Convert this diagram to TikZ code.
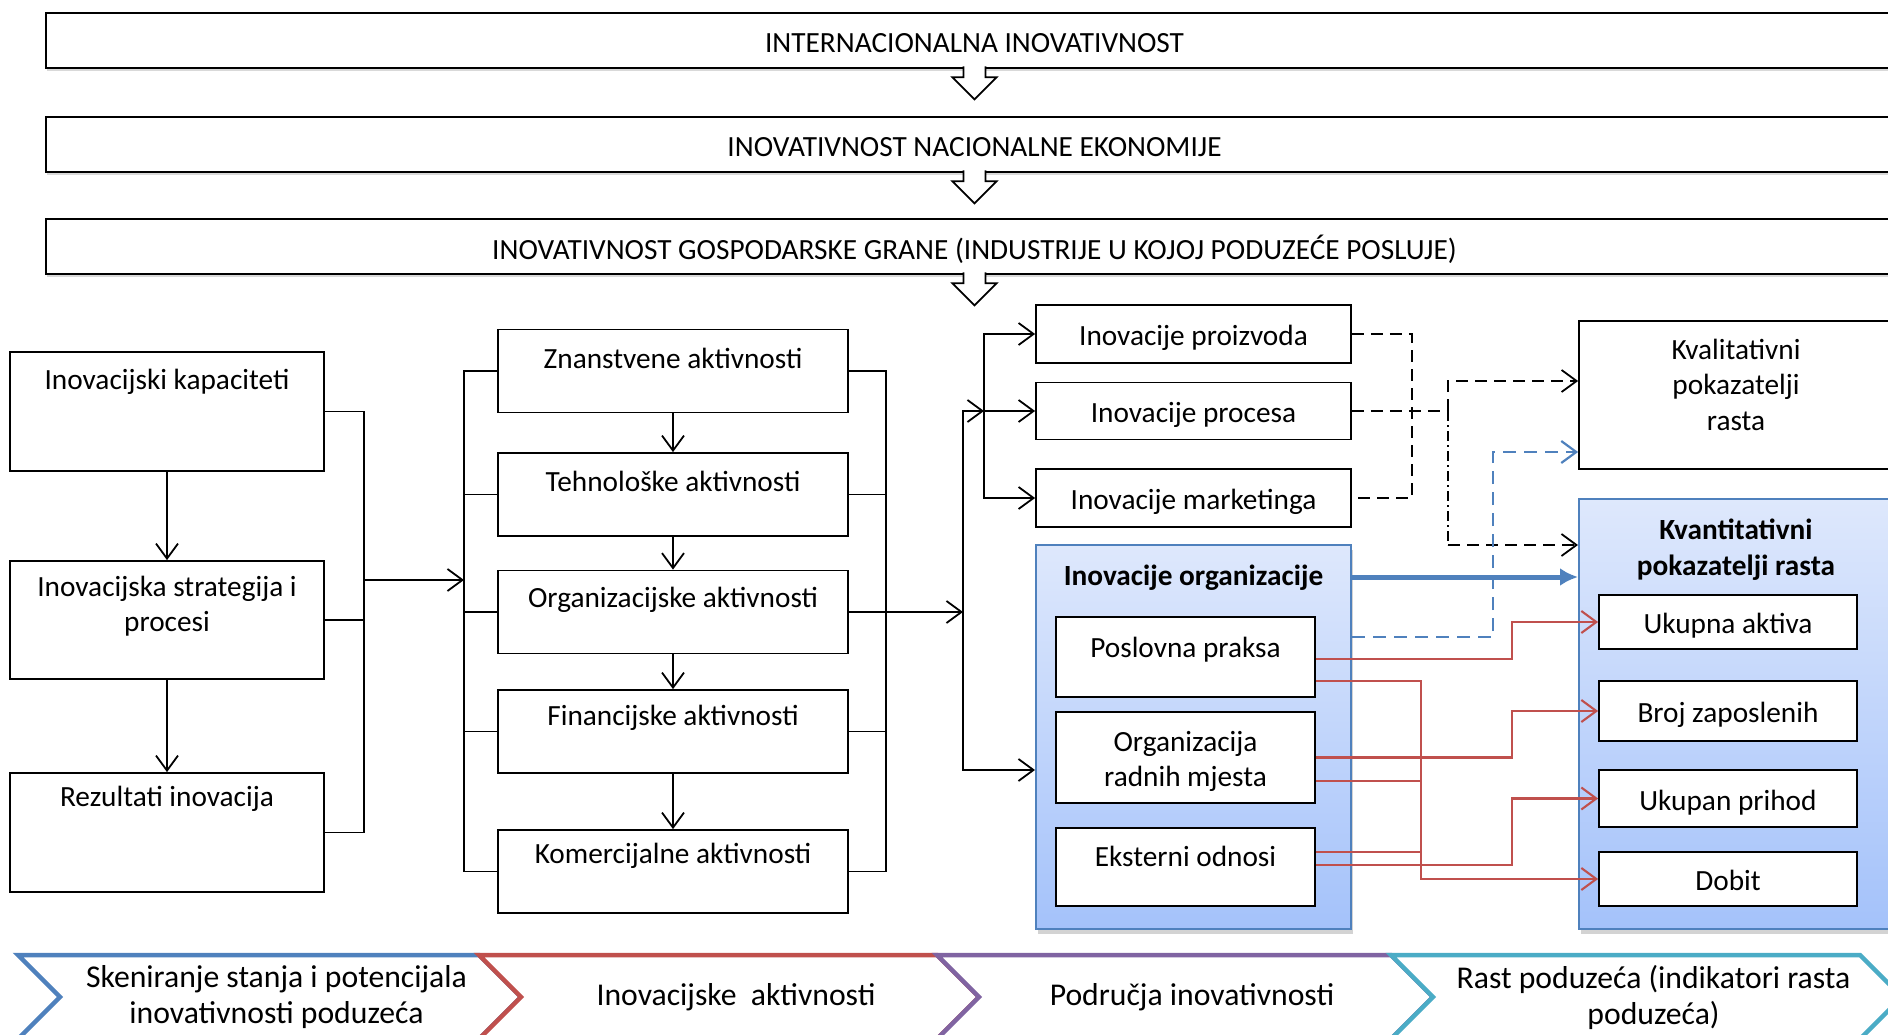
\documentclass[tikz,border=0pt]{standalone}
\usepackage{fontspec}
\setmainfont{Carlito}
\usepackage{tikz}
\usepackage{xcolor}
\usetikzlibrary{calc,arrows.meta,positioning,shadows}
\definecolor{officeBlue}{RGB}{79,129,189}
\definecolor{officeRed}{RGB}{192,80,77}
\definecolor{officePurple}{RGB}{128,100,162}
\definecolor{officeTeal}{RGB}{75,172,198}
\definecolor{panelTop}{RGB}{222,232,252}
\definecolor{panelBot}{RGB}{164,194,250}
\newcommand{\BlockDown}[1]{%
  \draw[line width=1.8pt,fill=white] ($(#1.south)+(-11,-3)$) -- ++(0,11) -- ++(-11,0) -- ++(22,22) -- ++(22,-22) -- ++(-11,0) -- ++(0,-11);}

\begin{document}
\begin{tikzpicture}[x=1pt,y=-1pt,font=\fontsize{29.3}{35.5}\selectfont,line width=1.8pt,
  >={Straight Barb[length=15pt,width=22pt]},
  bar/.style={draw,line width=2.6pt,fill=white,minimum width=1857pt,minimum height=55pt,inner sep=0pt,
    text height=26pt,text depth=1pt,drop shadow={shadow xshift=1pt,shadow yshift=-3pt,opacity=0.3}},
  box/.style={draw,fill=white,inner sep=0pt},
  ctr/.style={text height=25pt,text depth=2pt},
  txt/.style={inner sep=0pt,align=center},
  panel/.style={draw=officeBlue,line width=2pt,top color=panelTop,bottom color=panelBot,inner sep=0pt,
    drop shadow={shadow xshift=1.5pt,shadow yshift=-5pt,opacity=0.35}},
  dsh/.style={dash pattern=on 12pt off 7pt},
  dshdot/.style={dash pattern=on 10pt off 4pt on 2pt off 4pt},
  bdsh/.style={draw=officeBlue,line width=2.2pt,dash pattern=on 13pt off 8pt},
  redln/.style={draw=officeRed,line width=2.1pt}]
\useasboundingbox (0,0) rectangle (1888,1035);
\clip (0,0) rectangle (1888,1035);

\node[bar] (intl) at (974.5,40.5) {INTERNACIONALNA INOVATIVNOST};
\node[bar] (nat) at (974.5,144.5) {INOVATIVNOST NACIONALNE EKONOMIJE};
\node[bar] (ind) at (974.5,246.5) {INOVATIVNOST GOSPODARSKE GRANE (INDUSTRIJE U KOJOJ PODUZEĆE POSLUJE)};
\BlockDown{intl}
\BlockDown{nat}
\BlockDown{ind}

\node[box,minimum width=314pt,minimum height=119pt] (kap) at (167,411.5) {};
\node[txt,below=17pt of kap.north] (kapT) {Inovacijski kapaciteti};
\node[box,minimum width=314pt,minimum height=118pt] (strat) at (167,620) {};
\node[txt,below=15pt of strat.north] (stratT) {Inovacijska strategija i\\procesi};
\node[box,minimum width=314pt,minimum height=119pt] (rez) at (167,832.5) {};
\node[txt,below=13pt of rez.north] (rezT) {Rezultati inovacija};

\foreach \nm/\yy/\dd/\tx in {zn/371/19/Znanstvene aktivnosti,teh/494.5/18/Tehnološke aktivnosti,org/612/17/Organizacijske aktivnosti,fin/731.5/15/Financijske aktivnosti,kom/871.5/13/Komercijalne aktivnosti}{
  \node[box,minimum width=350pt,minimum height=83pt] (\nm) at (673,\yy) {};
  \node[txt,below=\dd pt of \nm.north] (\nm T) {\tx};
}

\node[box,ctr,minimum width=315pt,minimum height=58pt] (pro) at (1193.5,334) {Inovacije proizvoda};
\node[box,ctr,minimum width=315pt,minimum height=57pt] (proc) at (1193.5,411) {Inovacije procesa};
\node[box,ctr,minimum width=315pt,minimum height=58pt] (mkt) at (1193.5,498) {Inovacije marketinga};
\node[panel,minimum width=315pt,minimum height=384pt] (orgI) at (1193.5,737) {};
\node[txt,below=20pt of orgI.north] (orgIT) {\textbf{Inovacije organizacije}};
\node[box,minimum width=259pt,minimum height=80pt] (pp) at (1185.5,657) {};
\node[txt,below=20pt of pp.north] (ppT) {Poslovna praksa};
\node[box,minimum width=259pt,minimum height=91pt] (orm) at (1185.5,757.5) {};
\node[txt,below=19pt of orm.north] (ormT) {Organizacija\\radnih mjesta};
\node[box,minimum width=259pt,minimum height=78pt] (eo) at (1185.5,867) {};
\node[txt,below=18pt of eo.north] (eoT) {Eksterni odnosi};

\node[box,minimum width=314pt,minimum height=148pt] (kval) at (1736,395) {};
\node[txt,below=18pt of kval.north] (kvalT) {Kvalitativni\\pokazatelji\\rasta};
\node[panel,minimum width=314pt,minimum height=430pt] (kvant) at (1736,714) {};
\node[txt,below=20pt of kvant.north] (kvantT) {\textbf{Kvantitativni}\\\textbf{pokazatelji rasta}};
\node[box,ctr,minimum width=258pt,minimum height=54pt] (ua) at (1728,622) {Ukupna aktiva};
\node[box,ctr,minimum width=258pt,minimum height=60pt] (bz) at (1728,711) {Broj zaposlenih};
\node[box,ctr,minimum width=258pt,minimum height=57pt] (up) at (1728,798.5) {Ukupan prihod};
\node[box,ctr,minimum width=258pt,minimum height=54pt] (db) at (1728,879) {Dobit};

\draw[->] (kap.south) -- (strat.north);
\draw[->] (strat.south) -- (rez.north);
\coordinate (busA) at (364,580);
\coordinate (busB) at (464,580);
\draw (kap.east) -| (busA) |- (rez.east);
\draw (strat.east) -- (strat.east -| busA);
\draw[->] (busA) -- (busB);
\draw (zn.west) -| (busB) |- (kom.west);
\foreach \nm in {teh,org,fin} \draw (\nm.west) -- (\nm.west -| busB);
\foreach \a/\b in {zn/teh,teh/org,org/fin,fin/kom} \draw[->] (\a.south) -- (\b.north);
\coordinate (busC) at (886,612);
\draw (zn.east) -| (busC) |- (kom.east);
\foreach \nm in {teh,fin} \draw (\nm.east) -- (\nm.east -| busC);
\coordinate (busD) at (963,612);
\coordinate (busE) at (984,411);
\draw[->] (org.east) -- (busD);
\draw[->] (busD) |- (busE);
\draw[->] (busD) |- ([yshift=-33pt]orgI.west);
\draw[->] (busE) |- (pro.west);
\draw[->] (busE) -- (proc.west);
\draw[->] (busE) |- (mkt.west);

\draw[dsh] (pro.east) -- ++(60,0) |- (mkt.east);
\coordinate (busF) at (1448,411);
\coordinate (busG) at (1448,545);
\draw[dsh] (proc.east) -- (busF);
\draw[dsh,->] (busF) |- ([yshift=14pt]kval.west);
\draw[dshdot] (busF) -- (busG);
\draw[dsh,->] (busG) -- (busG -| kvant.west);
\draw[bdsh,->] ([yshift=100pt]orgI.east) -- ++(141,0) |- ([yshift=-57pt]kval.west);
\draw[draw=officeBlue,line width=5pt,-{Latex[length=18pt,width=18pt]}] ([yshift=160pt]orgI.east) -- ([yshift=160pt]orgI.east -| kvant.west);

\draw[redln,->] ([yshift=-2pt]pp.east) -- ++(196,0) |- (ua.west);
\draw[redln,->] ([yshift=-24pt]pp.east) -- ++(105,0) |- (db.west);
\draw[redln,->] (orm.east) -- ++(196,0) |- (bz.west);
\draw[redln] ([yshift=-23.5pt]orm.east) -- ++(105,0);
\draw[redln] ([yshift=15pt]eo.east) -- ++(105,0);
\draw[redln,->] ([yshift=2pt]eo.east) -- ++(196,0) |- (up.west);

\foreach \xa/\xb/\col/\tx [count=\i] in {18/479/officeBlue/{Skeniranje stanja i potencijala\\inovativnosti poduzeća},479/937/officeRed/{Inovacijske~~aktivnosti},937/1391/officePurple/{Područja inovativnosti},1391/1860/officeTeal/{Rast poduzeća (indikatori rasta\\poduzeća)}}{
  \draw[draw=\col,line width=4.5pt,fill=white] (\xa,955) -- (\xb,955) -- (\xb+42,997) -- (\xb,1039) -- (\xa,1039) -- (\xa+42,997) -- cycle;
  \node[txt,font=\fontsize{31.7}{36}\selectfont] (ph\i) at ({(\xa+\xb)/2+28},997) {\tx};
}
\end{tikzpicture}
\end{document}
